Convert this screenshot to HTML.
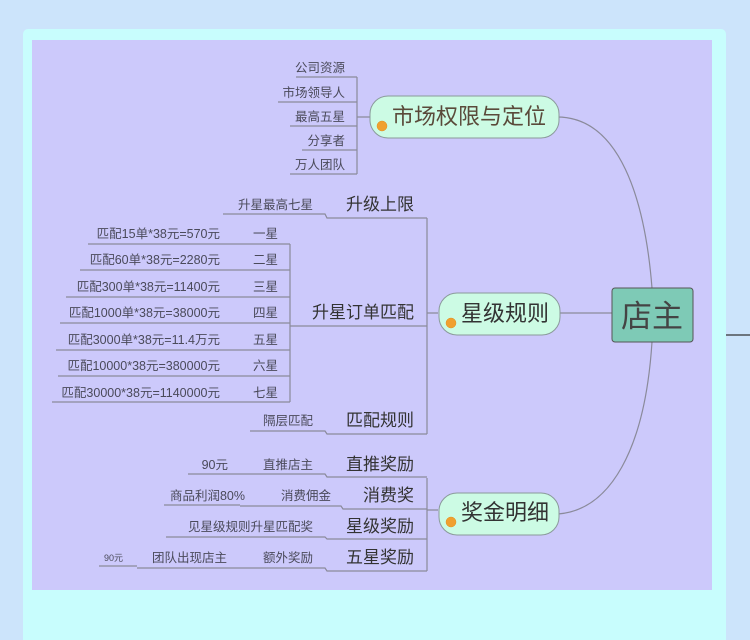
<!DOCTYPE html>
<html><head><meta charset="utf-8"><style>
html,body{margin:0;padding:0;width:750px;height:640px;overflow:hidden;background:#cce4fb;}
svg{display:block;}
text{font-family:"Liberation Sans","Noto Sans CJK SC",sans-serif;}
.l{font-size:12.5px;fill:#4a4a5a;}
.s{font-size:17px;fill:#333;}
</style></head><body>
<svg width="750" height="640" viewBox="0 0 750 640">
<rect x="23" y="29" width="703" height="620" rx="5" fill="#c8fdfd"/>
<rect x="32" y="40" width="680" height="550" fill="#ccc9fb"/>
<line x1="726" y1="335" x2="750" y2="335" stroke="#333" stroke-width="1.2"/>
<g fill="none" stroke="#8a8a9a" stroke-width="1.2">
<path d="M557 117 C620 117 645 200 652 288"/>
<path d="M560 313 L612 313"/>
<path d="M652 342 C645 450 610 510 558 514"/>
<path d="M357 77 V174 M357 117 H370"/>
<path d="M296 77 H357 M278 102 H357 M290 126 H357 M302 150 H357 M290 174 H357"/>
<path d="M427 218 V434 M427 313 H438"/>
<path d="M223 214 H325 L327 218 H427"/>
<path d="M290 244 V402 M290 326 H427"/>
<path d="M88 244 H232 L234 244 H290 M80 270 H290 M66 297 H290 M60 323 H290 M56 350 H290 M58 376 H290 M52 402 H290"/>
<path d="M250 431 H325 L327 434 H427"/>
<path d="M427 478 V571 M427 510 H438"/>
<path d="M188 474 H240 M240 474 H325 L327 477 H427"/>
<path d="M164 505 H240 M240 506 H341 L343 509 H427"/>
<path d="M166 537 H325 L327 539 H427"/>
<path d="M99 566 H137 M137 568 H240 M240 568 H325 L327 571 H427"/>
</g>
<rect x="370" y="96" width="189" height="42" rx="18" fill="#ccfbe4" stroke="#8a9a9a"/>
<circle cx="382" cy="126" r="5" fill="#f0a030" stroke="#e09020" stroke-width="0.5"/>
<text x="392" y="124" font-size="22" fill="#5a4a3a">市场权限与定位</text>
<rect x="439" y="293" width="121" height="42" rx="18" fill="#ccfbe4" stroke="#8a9a9a"/>
<circle cx="451" cy="323" r="5" fill="#f0a030" stroke="#e09020" stroke-width="0.5"/>
<text x="461" y="321" font-size="22" fill="#333">星级规则</text>
<rect x="439" y="493" width="120" height="42" rx="18" fill="#ccfbe4" stroke="#8a9a9a"/>
<circle cx="451" cy="522" r="5" fill="#f0a030" stroke="#e09020" stroke-width="0.5"/>
<text x="461" y="520" font-size="22" fill="#333">奖金明细</text>
<rect x="612" y="288" width="81" height="54" rx="3" fill="#7ecab6" stroke="#555"/>
<text x="652" y="327" font-size="31" fill="#444" text-anchor="middle">店主</text>
<g class="l" text-anchor="end">
<text x="345" y="72">公司资源</text>
<text x="345" y="97">市场领导人</text>
<text x="345" y="121">最高五星</text>
<text x="345" y="145">分享者</text>
<text x="345" y="169">万人团队</text>
</g>
<g class="s" text-anchor="end">
<text x="414" y="210">升级上限</text>
<text x="414" y="318">升星订单匹配</text>
<text x="414" y="426">匹配规则</text>
<text x="414" y="470">直推奖励</text>
<text x="414" y="501">消费奖</text>
<text x="414" y="532">星级奖励</text>
<text x="414" y="563">五星奖励</text>
</g>
<g class="l" text-anchor="end">
<text x="313" y="209">升星最高七星</text>
<text x="278" y="238">一星</text>
<text x="278" y="264">二星</text>
<text x="278" y="291">三星</text>
<text x="278" y="317">四星</text>
<text x="278" y="344">五星</text>
<text x="278" y="370">六星</text>
<text x="278" y="397">七星</text>
<text x="220" y="238">匹配15单*38元=570元</text>
<text x="220" y="264">匹配60单*38元=2280元</text>
<text x="220" y="291">匹配300单*38元=11400元</text>
<text x="220" y="317">匹配1000单*38元=38000元</text>
<text x="220" y="344">匹配3000单*38元=11.4万元</text>
<text x="220" y="370">匹配10000*38元=380000元</text>
<text x="220" y="397">匹配30000*38元=1140000元</text>
<text x="313" y="425">隔层匹配</text>
<text x="313" y="469">直推店主</text>
<text x="228" y="469">90元</text>
<text x="331" y="500">消费佣金</text>
<text x="245" y="500">商品利润80%</text>
<text x="313" y="531">见星级规则升星匹配奖</text>
<text x="313" y="562">额外奖励</text>
<text x="227" y="562">团队出现店主</text>
<text x="123" y="561" font-size="9">90元</text>
</g>
</svg>
</body></html>
